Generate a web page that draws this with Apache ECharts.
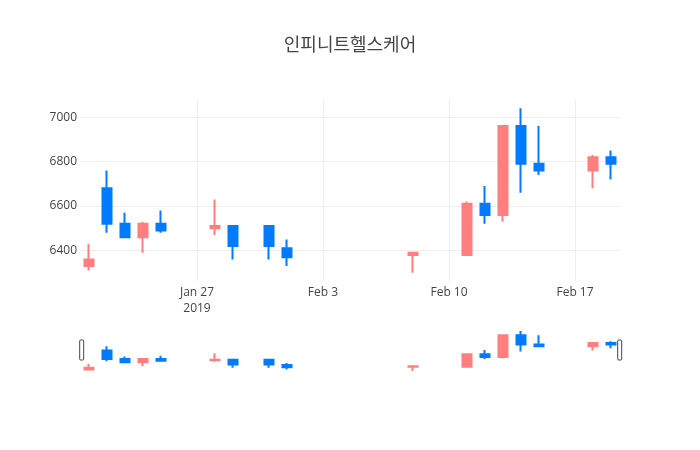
<!DOCTYPE html>
<html>
<head>
<meta charset="utf-8">
<script src="https://cdn.jsdelivr.net/npm/echarts@6/dist/echarts.min.js"></script>
<style>
html,body{margin:0;padding:0;background:#fff;}
#chart{width:700px;height:450px;}
</style>
</head>
<body>
<div id="chart"></div>
<script>
const titleText = '인피니트헬스케어';
const dates = ['2019-01-21','2019-01-22','2019-01-23','2019-01-24','2019-01-25',
  '2019-01-28','2019-01-29','2019-01-31','2019-02-01','2019-02-08',
  '2019-02-11','2019-02-12','2019-02-13','2019-02-14','2019-02-15',
  '2019-02-18','2019-02-19'];
const openVals  = [6330, 6680, 6520, 6460, 6520, 6500, 6510, 6510, 6410, 6380, 6380, 6610, 6560, 6960, 6790, 6760, 6820];
const closeVals = [6360, 6520, 6460, 6520, 6490, 6510, 6420, 6420, 6370, 6390, 6610, 6560, 6960, 6790, 6760, 6820, 6790];
const lowVals   = [6310, 6480, 6460, 6390, 6480, 6470, 6360, 6360, 6330, 6300, 6375, 6520, 6530, 6660, 6740, 6680, 6720];
const highVals  = [6430, 6760, 6570, 6530, 6580, 6630, 6510, 6510, 6450, 6390, 6620, 6690, 6960, 7040, 6960, 6830, 6850];
const xTickDates = ['2019-01-27','2019-02-03','2019-02-10','2019-02-17'];
const yTickVals = [6400, 6600, 6800, 7000];
const xRange = ['2019-01-20 12:00', '2019-02-19 12:00'];
const yRange = [6263, 7077];

const upColor = '#ff7f7f';
const downColor = '#007aff';
const months = ['Jan','Feb','Mar','Apr','May','Jun','Jul','Aug','Sep','Oct','Nov','Dec'];

function parseLocal(s) {
  const m = s.match(/(\d+)-(\d+)-(\d+)(?: (\d+):(\d+))?/);
  return new Date(+m[1], +m[2]-1, +m[3], m[4] ? +m[4] : 0, m[5] ? +m[5] : 0).getTime();
}
const seriesData = dates.map((d, i) => [parseLocal(d), openVals[i], closeVals[i], lowVals[i], highVals[i]]);
const xTicks = xTickDates.map(parseLocal);
const xMin = parseLocal(xRange[0]), xMax = parseLocal(xRange[1]);

const font = '"Open Sans", "Noto Sans CJK KR", sans-serif';
const chart = echarts.init(document.getElementById('chart'), null, {renderer: 'canvas'});

const candleStyle = {
  color: upColor, color0: downColor,
  borderColor: upColor, borderColor0: downColor,
  borderWidth: 2
};

chart.setOption({
  animation: false,
  backgroundColor: '#fff',
  title: {
    text: titleText, left: 'center', top: 32,
    textStyle: {fontFamily: font, fontSize: 18, fontWeight: 'normal', color: '#444'}
  },
  grid: [
    {left: 80, right: 80, top: 100, height: 181, containLabel: false},
    {left: 80, right: 80, top: 329, height: 44, containLabel: false}
  ],
  xAxis: [
    {
      type: 'value', gridIndex: 0, min: xMin, max: xMax, scale: true,
      axisLine: {show: false},
      axisTick: {show: false, customValues: xTicks},
      axisLabel: {
        customValues: xTicks, color: '#444', fontFamily: font, fontSize: 12,
        margin: 3, lineHeight: 16.5,
        formatter: function (v) {
          const d = new Date(v);
          let s = months[d.getMonth()] + ' ' + d.getDate();
          if (v === xTicks[0]) s += '\n' + d.getFullYear();
          return s;
        }
      },
      splitLine: {show: true, lineStyle: {color: '#eee', width: 1}}
    },
    {
      type: 'value', gridIndex: 1, min: xMin, max: xMax, scale: true,
      axisLine: {show: false}, axisTick: {show: false},
      axisLabel: {show: false}, splitLine: {show: false}
    }
  ],
  yAxis: [
    {
      type: 'value', gridIndex: 0, min: yRange[0], max: yRange[1], scale: true,
      axisLine: {show: false},
      axisTick: {show: false, customValues: yTickVals},
      axisLabel: {
        customValues: yTickVals, color: '#444', fontFamily: font, fontSize: 12, margin: 3,
        formatter: function (v) { return String(v); }
      },
      splitLine: {show: true, lineStyle: {color: '#eee', width: 1}}
    },
    {
      type: 'value', gridIndex: 1, min: yRange[0], max: yRange[1], scale: true,
      axisLine: {show: false}, axisTick: {show: false},
      axisLabel: {show: false}, splitLine: {show: false}
    }
  ],
  dataZoom: [{
    type: 'slider', xAxisIndex: 0, filterMode: 'none', start: 0, end: 100,
    left: 80, right: 80, top: 340, height: 20,
    backgroundColor: 'transparent', fillerColor: 'transparent', borderColor: 'transparent',
    showDetail: false, showDataShadow: false, brushSelect: false,
    moveHandleSize: 0, realtime: false,
    handleIcon: 'path://M2,0 L6,0 Q8,0 8,2 L8,38 Q8,40 6,40 L2,40 Q0,40 0,38 L0,2 Q0,0 2,0 Z',
    handleSize: '100%',
    handleStyle: {color: '#fff', borderColor: '#444', borderWidth: 1},
    emphasis: {handleStyle: {color: '#fff', borderColor: '#444'}},
    dataBackground: {lineStyle: {opacity: 0}, areaStyle: {opacity: 0}},
    selectedDataBackground: {lineStyle: {opacity: 0}, areaStyle: {opacity: 0}}
  }],
  series: [
    {
      type: 'candlestick', xAxisIndex: 0, yAxisIndex: 0,
      data: seriesData, encode: {x: 0, y: [1, 2, 3, 4]},
      barWidth: 9, itemStyle: candleStyle
    },
    {
      type: 'candlestick', xAxisIndex: 1, yAxisIndex: 1,
      data: seriesData, encode: {x: 0, y: [1, 2, 3, 4]},
      barWidth: 9, itemStyle: candleStyle, silent: true
    }
  ]
});
</script>
</body>
</html>
